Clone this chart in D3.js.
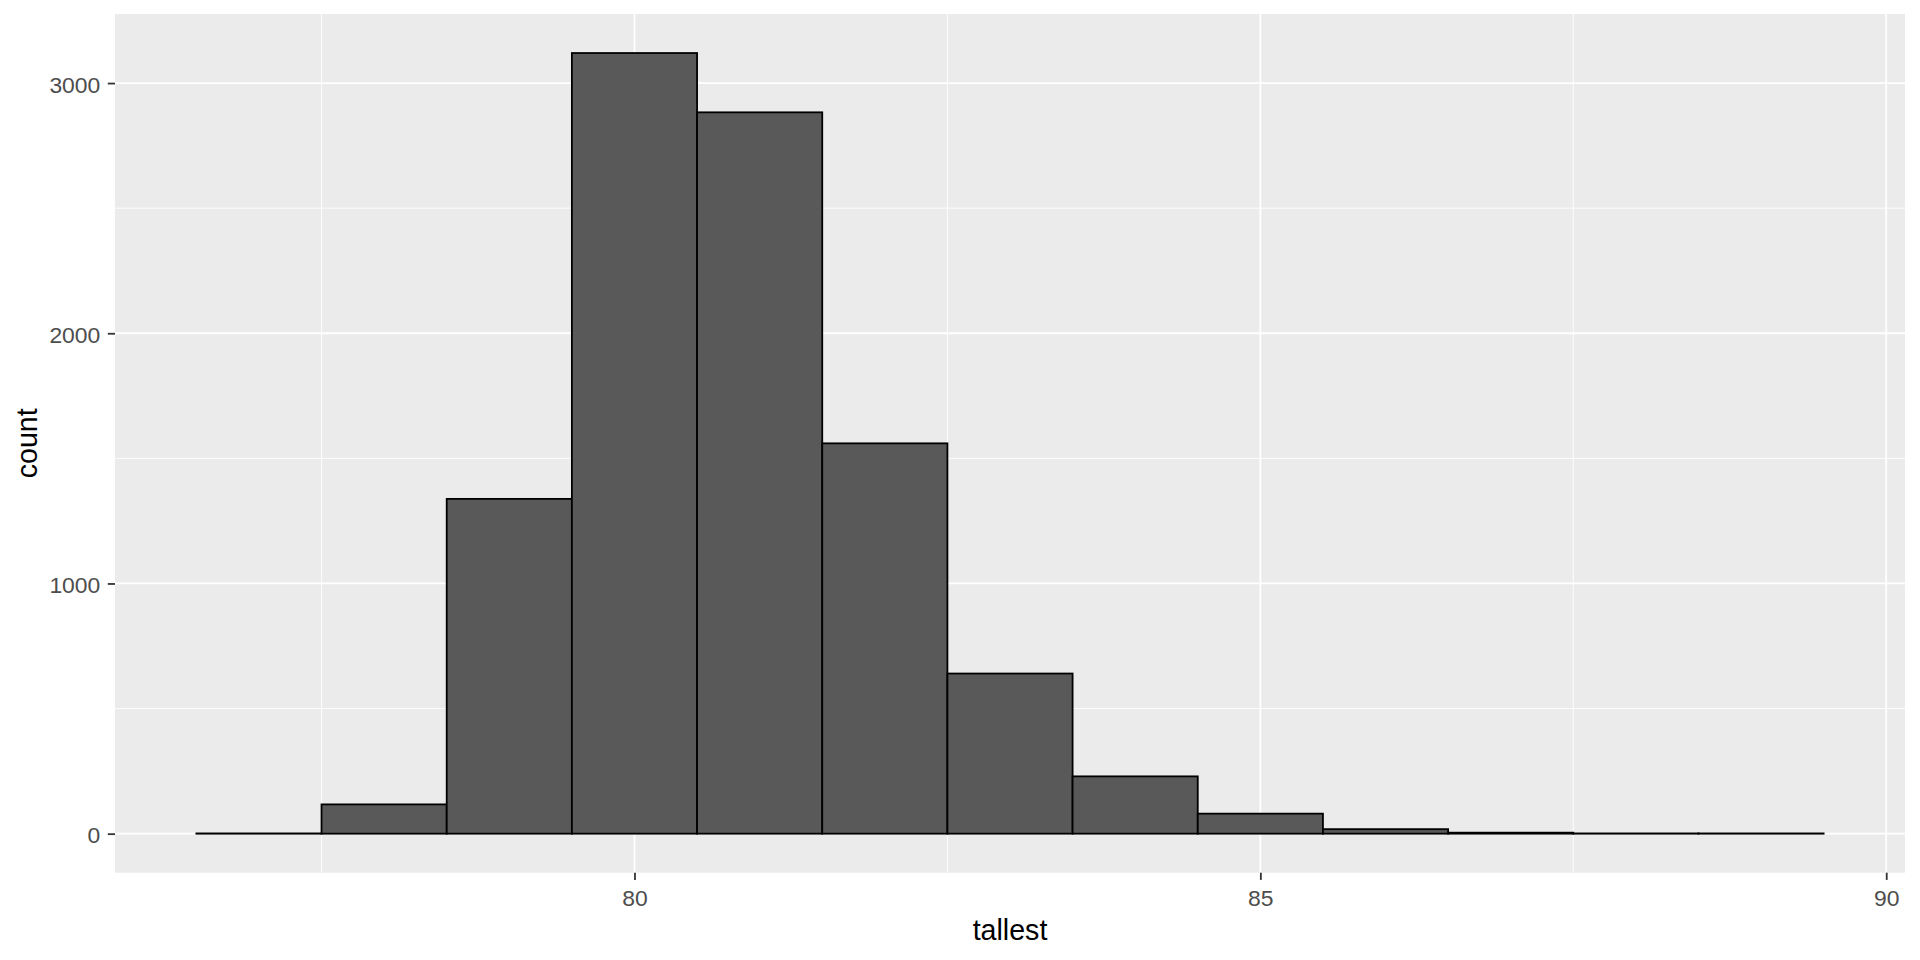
<!DOCTYPE html>
<html>
<head>
<meta charset="utf-8">
<script src="https://cdn.jsdelivr.net/npm/d3@7"></script>
<style>
  html, body { margin: 0; padding: 0; background: #ffffff; }
  svg { display: block; font-family: Arial, "Liberation Sans", Helvetica, sans-serif; }
</style>
</head>
<body>
<svg id="chart" width="1920" height="960"></svg>
<script>
// ---- data ----
const binCenters = [77, 78, 79, 80, 81, 82, 83, 84, 85, 86, 87, 88, 89];
const counts     = [1, 117, 1338, 3120, 2883, 1560, 640, 229, 80, 18, 4, 1, 1];
const binWidth = 1;
const xTicks = [80, 85, 90];
const xMinor = [77.5, 82.5, 87.5];
const yTicks = [0, 1000, 2000, 3000];
const yMinor = [500, 1500, 2500];
const xTitle = "tallest";
const yTitle = "count";

// ---- layout ----
const W = 1920, H = 960;
const panel = { left: 115, right: 1905, top: 14, bottom: 872.7 };

const svg = d3.select("#chart");

// scales with ggplot-like 5% expansion
const xLo = d3.min(binCenters) - binWidth / 2, xHi = d3.max(binCenters) + binWidth / 2;
const xPad = (xHi - xLo) * 0.05;
const x = d3.scaleLinear().domain([xLo - xPad, xHi + xPad]).range([panel.left, panel.right]);
const yMax = d3.max(counts);
const y = d3.scaleLinear().domain([-yMax * 0.05, yMax * 1.05]).range([panel.bottom, panel.top]);

// panel background
svg.append("rect")
  .attr("x", panel.left).attr("y", panel.top)
  .attr("width", panel.right - panel.left).attr("height", panel.bottom - panel.top)
  .attr("fill", "#EBEBEB");

const grid = svg.append("g");
// minor grid
grid.selectAll(".ymin").data(yMinor).enter().append("line")
  .attr("x1", panel.left).attr("x2", panel.right)
  .attr("y1", d => y(d)).attr("y2", d => y(d))
  .attr("stroke", "#ffffff").attr("stroke-width", 0.9);
grid.selectAll(".xmin").data(xMinor).enter().append("line")
  .attr("y1", panel.top).attr("y2", panel.bottom)
  .attr("x1", d => x(d)).attr("x2", d => x(d))
  .attr("stroke", "#ffffff").attr("stroke-width", 0.9);
// major grid
grid.selectAll(".ymaj").data(yTicks).enter().append("line")
  .attr("x1", panel.left).attr("x2", panel.right)
  .attr("y1", d => y(d)).attr("y2", d => y(d))
  .attr("stroke", "#ffffff").attr("stroke-width", 1.8);
grid.selectAll(".xmaj").data(xTicks).enter().append("line")
  .attr("y1", panel.top).attr("y2", panel.bottom)
  .attr("x1", d => x(d)).attr("x2", d => x(d))
  .attr("stroke", "#ffffff").attr("stroke-width", 1.8);

// bars
const bins = binCenters.map((c, i) => ({ c, n: counts[i] }));
svg.append("g").selectAll("rect").data(bins).enter().append("rect")
  .attr("x", d => x(d.c - binWidth / 2))
  .attr("width", d => x(d.c + binWidth / 2) - x(d.c - binWidth / 2))
  .attr("y", d => y(d.n))
  .attr("height", d => y(0) - y(d.n))
  .attr("fill", "#595959")
  .attr("stroke", "#000000")
  .attr("stroke-width", 1.8);

// axes
const tickFont = 22.9;
const xAxis = svg.append("g")
  .attr("transform", `translate(0,${panel.bottom})`)
  .call(d3.axisBottom(x).tickValues(xTicks).tickSize(7.2).tickPadding(5.7).tickFormat(d3.format("d")));
xAxis.select(".domain").remove();
xAxis.selectAll(".tick line").attr("stroke", "#333333").attr("stroke-width", 1.8);
xAxis.selectAll(".tick text")
  .attr("fill", "#4D4D4D").attr("font-size", tickFont)
  .attr("font-family", "Arial, 'Liberation Sans', sans-serif")
  .attr("y", 33.3).attr("dy", null);

const yAxis = svg.append("g")
  .attr("transform", `translate(${panel.left},0)`)
  .call(d3.axisLeft(y).tickValues(yTicks).tickSize(7.2).tickPadding(7.5).tickFormat(d3.format("d")));
yAxis.select(".domain").remove();
yAxis.selectAll(".tick line").attr("stroke", "#333333").attr("stroke-width", 1.8);
yAxis.selectAll(".tick text")
  .attr("fill", "#4D4D4D").attr("font-size", tickFont)
  .attr("font-family", "Arial, 'Liberation Sans', sans-serif")
  .attr("dy", "0.4em");

// axis titles
svg.append("text")
  .attr("x", (panel.left + panel.right) / 2).attr("y", 940)
  .attr("text-anchor", "middle").attr("font-size", 28.6).attr("fill", "#000000")
  .text(xTitle);
svg.append("text")
  .attr("transform", `translate(37.3,${(panel.top + panel.bottom) / 2}) rotate(-90)`)
  .attr("text-anchor", "middle").attr("font-size", 28.6).attr("fill", "#000000")
  .text(yTitle);
</script>
</body>
</html>
